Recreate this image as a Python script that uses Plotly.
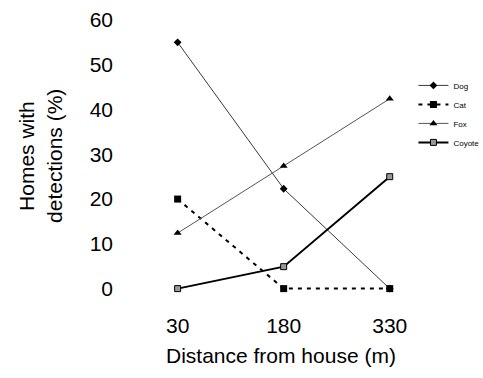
import plotly.graph_objects as go

distance = [30, 180, 330]
dog = [55, 22.3, 0]
cat = [20, 0, 0]
fox = [12.4, 27.4, 42.4]
coyote = [0, 4.9, 25]
y_ticks = [0, 10, 20, 30, 40, 50, 60]

fig = go.Figure()
fig.add_trace(go.Scatter(x=distance, y=dog, name="Dog", mode="lines+markers",
                         line=dict(color="#3a3a3a", width=1),
                         marker=dict(symbol="diamond", size=6, color="black")))
fig.add_trace(go.Scatter(x=distance, y=cat, name="Cat", mode="lines+markers",
                         line=dict(color="black", width=2, dash="4px,5px"),
                         marker=dict(symbol="square", size=7, color="black")))
fig.add_trace(go.Scatter(x=distance, y=fox, name="Fox", mode="lines+markers",
                         line=dict(color="#555555", width=1),
                         marker=dict(symbol="triangle-up", size=7, color="black")))
fig.add_trace(go.Scatter(x=distance, y=coyote, name="Coyote", mode="lines+markers",
                         line=dict(color="black", width=2),
                         marker=dict(symbol="square", size=6, color="#999999",
                                     line=dict(color="black", width=1))))

fig.update_layout(
    width=483, height=378,
    margin=dict(l=114, r=65, t=11, b=67, autoexpand=False),
    paper_bgcolor="white", plot_bgcolor="white",
    font=dict(family="Liberation Sans, Arial, sans-serif", color="black", size=21),
    showlegend=True,
    legend=dict(x=0.985, y=0.657, xanchor="left", yanchor="middle",
                font=dict(size=8, color="black"), tracegroupgap=0, itemwidth=30,
                bgcolor="rgba(0,0,0,0)"),
    xaxis=dict(range=[-60, 370], tickvals=distance, ticktext=[str(d) for d in distance],
               showgrid=False, zeroline=False, showline=False, ticks="",
               tickfont=dict(size=21)),
    yaxis=dict(range=[-5, 62], tickvals=y_ticks, showgrid=False, zeroline=False,
               showline=False, ticks="", tickfont=dict(size=21)),
    annotations=[
        dict(text="Homes with", xref="paper", yref="paper", x=-0.286, y=0.517,
             xanchor="center", yanchor="middle",
             textangle=-90, showarrow=False, font=dict(size=21)),
        dict(text="detections (%)", xref="paper", yref="paper", x=-0.194, y=0.517,
             xanchor="center", yanchor="middle",
             textangle=-90, showarrow=False, font=dict(size=21)),
        dict(text="Distance from house (m)", xref="paper", yref="paper", x=0.549,
             y=-0.147, xanchor="center", yanchor="middle",
             showarrow=False, font=dict(size=21)),
    ],
)

fig.write_html("out.html")
